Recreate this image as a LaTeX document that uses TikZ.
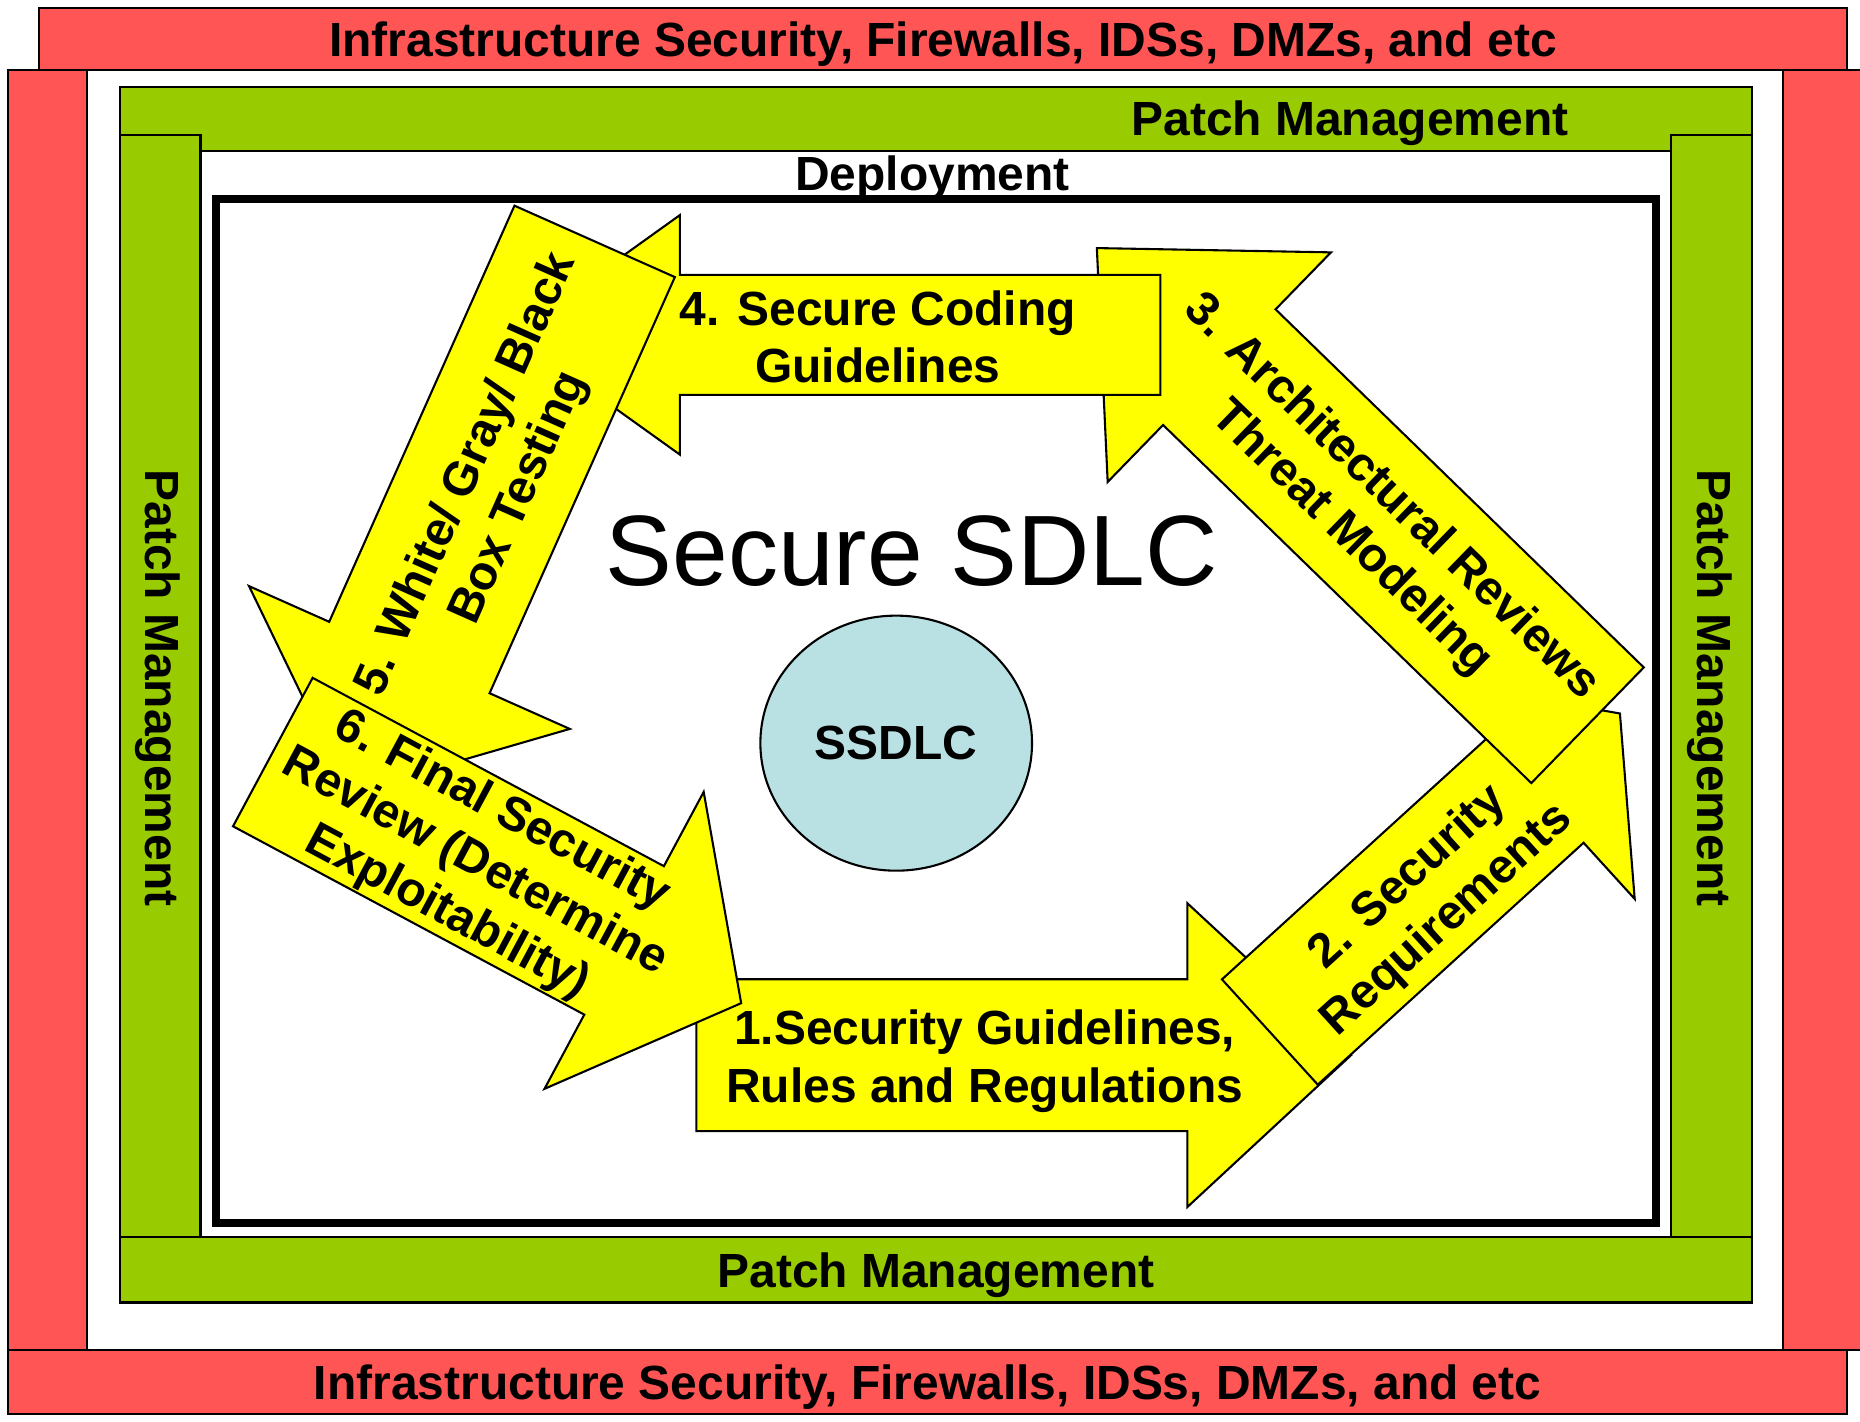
\documentclass[tikz,border=0pt]{standalone}
\usepackage{fontspec}
\setmainfont{Liberation Sans}
\usetikzlibrary{positioning,shapes.geometric}

\definecolor{bandred}{RGB}{255,85,85}
\definecolor{patchgreen}{RGB}{153,204,0}
\definecolor{stageyellow}{RGB}{255,255,0}
\definecolor{coreblue}{RGB}{185,224,227}

% block arrow: tail midpoint x, y, direction, shaft length, shaft half width, head half width, head length
\newcommand{\stagearrow}[7]{%
  \draw[stage, shift={(#1,#2)}, rotate=#3]
    (0,-#5) -- (#4,-#5) -- (#4,-#6) -- ({#4+#7},0) -- (#4,#6) -- (#4,#5) -- (0,#5) -- cycle;}

\begin{document}
\begin{tikzpicture}[
    band/.style={draw, fill=bandred, line width=0.5pt, inner sep=0pt, outer sep=0pt, text depth=0pt},
    patch/.style={draw, fill=patchgreen, line width=0.5pt, inner sep=0pt, outer sep=0pt, text depth=0pt},
    stage/.style={draw, fill=stageyellow, line width=0.5pt, line join=miter},
    lbl/.style={font=\fontsize{11.5}{13.8}\selectfont\bfseries, align=center, inner sep=0pt}]
  \useasboundingbox (0,0) rectangle (15.68,11.98);

  % infrastructure frame
  \node[band, lbl, minimum width=15.24cm, minimum height=0.52cm] (infratop) at (7.95,11.65) {Infrastructure Security, Firewalls, IDSs, DMZs, and etc};
  \node[band, minimum width=0.66cm, minimum height=10.79cm] (infraleft) at (0.40,5.995) {};
  \node[band, minimum width=0.72cm, minimum height=10.79cm] (infraright) at (15.39,5.995) {};
  \node[band, lbl, minimum width=15.50cm, minimum height=0.54cm] (infrabot) at (7.82,0.33) {Infrastructure Security, Firewalls, IDSs, DMZs, and etc};

  % patch management frame
  \node[patch, minimum width=13.76cm, minimum height=0.54cm] (patchtop) at (7.89,10.98) {};
  \node[lbl, text depth=0pt] (patchtoplbl) at (11.38,10.98) {Patch Management};
  \node[patch, minimum width=0.68cm, minimum height=9.29cm] (patchleft) at (1.35,6.195) {};
  \node[lbl, rotate=-90] (patchleftlbl) at (1.33,6.18) {Patch Management};
  \node[patch, minimum width=0.68cm, minimum height=9.29cm] (patchright) at (14.43,6.195) {};
  \node[lbl, rotate=-90] (patchrightlbl) at (14.41,6.18) {Patch Management};
  \node[patch, lbl, minimum width=13.76cm, minimum height=0.55cm] (patchbot) at (7.89,1.275) {Patch Management};

  \node[lbl] (deploy) at (7.86,10.48) {Deployment};
  \node[draw, line width=1.9pt, minimum width=12.14cm, minimum height=8.63cm, inner sep=0pt] (sdlcbox) at (7.89,5.985) {};

  \node[font=\fontsize{24}{29}\selectfont, inner sep=0pt] (title) at (7.685,7.335) {Secure SDLC};
  \node[draw, ellipse, fill=coreblue, line width=0.5pt, minimum width=2.29cm, minimum height=2.15cm, lbl] (core) at (7.555,5.715) {SSDLC};

  % the six stages, drawn in order so each one overlaps the previous
  \stagearrow{5.87}{3.085}{0}{4.14}{0.64}{1.28}{1.38}
  \node[lbl] (guide) at (8.30,3.035) {1.Security Guidelines,\\Rules and Regulations};
  \stagearrow{10.705}{3.28}{42.3}{3.03}{0.60}{1.24}{0.96}
  \node[lbl, rotate=42.3] (req) at (12.04,4.40) {2. Security\\Requirements};
  \stagearrow{13.383}{5.866}{135.8}{4.33}{0.68}{1.35}{1.44}
  \node[lbl, rotate=-44.2] (arch) at (11.56,7.61) {3. Architectural Reviews\\Threat Modeling};
  \stagearrow{9.782}{9.157}{180}{4.05}{0.506}{1.01}{1.41}
  \node[lbl] (coding) at (7.40,9.14) {4. Secure Coding\\Guidelines};
  \stagearrow{5.013}{9.945}{246}{3.84}{0.74}{1.48}{1.25}
  \node[lbl, rotate=66] (testing) at (4.16,7.88) {5. White/ Gray/ Black\\Box Testing};
  \stagearrow{2.30}{5.64}{-28.2}{3.36}{0.71}{1.42}{1.12}
  \node[lbl, rotate=-28.2] (review) at (4.00,4.71) {6. Final Security\\Review (Determine\\Exploitability)};
\end{tikzpicture}
\end{document}
